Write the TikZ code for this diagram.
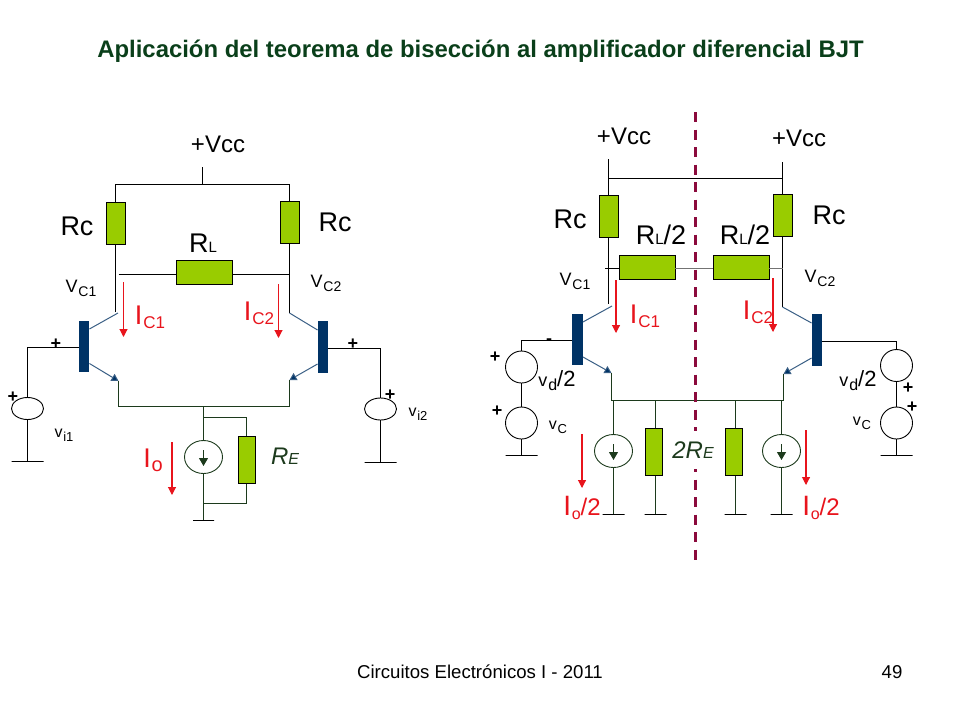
\documentclass[tikz,border=0pt]{standalone}
\usepackage{fontspec}
\setmainfont{Liberation Sans}
\usetikzlibrary{arrows.meta,shapes.geometric}
\definecolor{leafgreen}{HTML}{99CC00}
\definecolor{bjtnavy}{HTML}{003366}
\definecolor{pinblue}{HTML}{3A5F85}
\definecolor{darkwire}{HTML}{1C3A1C}
\definecolor{titlegreen}{HTML}{0A3F1A}
\definecolor{currentred}{HTML}{E8141C}
\definecolor{cutpurple}{HTML}{8B0A3C}
\newcommand{\subtxt}[3]{{#1\kern0.8pt\raisebox{-4pt}{\fontsize{#3}{#3}\selectfont #2}}}
\newcommand{\sizetxt}[1]{\fontsize{#1}{#1}\selectfont}
\tikzset{
  wire/.style={line width=1pt,black},
  lowwire/.style={line width=1pt,darkwire},
  pin/.style={line width=1pt,pinblue},
  emitpin/.style={line width=1pt,pinblue,-{Triangle[length=7pt,width=8pt,fill=bjtnavy]}},
  rvert/.style={draw=black,fill=leafgreen,line width=0.9pt,inner sep=0,minimum width=19,minimum height=42},
  rhoriz/.style={draw=black,fill=leafgreen,line width=0.9pt,inner sep=0,minimum width=56,minimum height=24},
  rbias/.style={draw=black,fill=leafgreen,line width=0.9pt,inner sep=0,minimum width=17,minimum height=47},
  bjtbar/.style={fill=bjtnavy,inner sep=0,minimum width=10.5},
  gndbar/.style={draw=black,line width=1pt,inner sep=0,minimum height=0},
  vsrc/.style={draw=black,ellipse,line width=0.9pt,inner sep=0,minimum width=32,minimum height=22},
  vcirc/.style={draw=black,circle,line width=0.9pt,inner sep=0,minimum size=32},
  isrc/.style={draw=darkwire,ellipse,line width=0.9pt,inner sep=0,minimum width=38,minimum height=33},
  isense/.style={line width=1pt,darkwire,-{Triangle[length=8pt,width=9pt]}},
  curr/.style={line width=1.1pt,currentred,-{Triangle[length=8pt,width=8pt]}},
  lbl/.style={inner sep=0,font=\sizetxt{24}},
  biglbl/.style={inner sep=0,font=\sizetxt{27}},
  smalllbl/.style={inner sep=0,font=\sizetxt{18}},
  redlbl/.style={inner sep=0,text=currentred,font=\sizetxt{27}},
  relbl/.style={inner sep=0,text=darkwire,font=\itshape\sizetxt{24}},
  pluslbl/.style={inner sep=0,font=\bfseries\sizetxt{18}},
}
\begin{document}
\begin{tikzpicture}[x=1pt,y=-1pt]
\useasboundingbox (0,0) rectangle (960,720);
\node[inner sep=0,text=titlegreen,font=\bfseries\sizetxt{23.9}] (title) at (480.5,51) {Aplicación del teorema de bisección al amplificador diferencial BJT};
\node[inner sep=0,font=\sizetxt{18.6}] (footer) at (480,672) {Circuitos Electrónicos I - 2011};
\node[inner sep=0,font=\sizetxt{18.6}] (pagenum) at (892,672) {49};
% bars of the transistors
\foreach \nm/\px/\py/\ph in {barA/84/346.5/51,barB/323/347/52,barC/577.5/339.5/51,barD/817/340/52}
  {\node[bjtbar,minimum height=\ph] (\nm) at (\px,\py) {};}
% resistors
\foreach \nm/\px/\py in {rcA/115.5/223,rcB/289.5/222,rcC/608.5/216,rcD/782.5/215}
  {\node[rvert] (\nm) at (\px,\py) {};}
\foreach \nm/\px/\py in {rlA/204/272,rlC/647/267,rlD/741/267}
  {\node[rhoriz] (\nm) at (\px,\py) {};}
\foreach \nm/\px/\py in {reA/246.5/460,reC/653.5/452,reD/733.5/452}
  {\node[rbias] (\nm) at (\px,\py) {};}
% sources
\node[vsrc] (viA) at (27.5,408.5) {};
\node[vsrc] (viB) at (380.5,409) {};
\node[vcirc] (vdC) at (521.5,367) {};
\node[vcirc] (vcC) at (521.5,423) {};
\node[vcirc] (vdD) at (896.5,365.5) {};
\node[vcirc] (vcD) at (896.5,423) {};
\foreach \nm/\px/\py in {ioA/203.5/457,ioC/613.5/451,ioD/781.5/451}
  {\node[isrc] (\nm) at (\px,\py) {};
   \coordinate (\nm t) at (\px,\py-7);
   \coordinate (\nm b) at (\px,\py+9);
   \draw[isense] (\nm t) -- (\nm b);}
% grounds
\foreach \nm/\px/\py/\pw in {gndA/27.5/461.5/32,gndB/380.5/462.5/32,gndE/203.5/520.5/21,gndC/521.5/455.5/32,gndD/896.5/455.5/32,gndF/613.5/514.5/22,gndG/655.5/514.5/22,gndH/735.5/514.5/22,gndI/781.5/514.5/22}
  {\node[gndbar,minimum width=\pw] (\nm) at (\px,\py) {};}
% free points of the wires
\foreach \nm/\px/\py in {vccA/202.5/167,railA/202.5/184.5,railAl/115.5/184.5,railAr/289.5/184.5,
  colA/115.5/312,colAk/118/313,nodeAl/118.5/274.5,nodeAr/289.5/274.5,colB/289.5/313,
  emiA/118.5/381,emiB/289.5/380,busAl/118.5/406.5,busAr/289.5/406.5,busAm/203.5/406.5,
  baseA/27.5/347.5,baseB/380.5/348.5,teeA/203.5/417.5,teeB/246.5/417.5,teeC/203.5/503.5,teeD/246.5/503.5,
  vccC/608.5/159,vccD/782.5/162,railCl/608.5/178.5,railCr/782.5/178.5,colC/608.5/304,colCk/612/306,colD/782.5/307,
  nodeCl/605/268.5,nodeDr/782.5/268.5,emiC/611.5/373,emiD/783.5/374,busCl/611.5/400.5,busDr/783.5/400.5,
  busCa/613.5/400.5,busCb/655.5/400.5,busDa/735.5/400.5,busDb/781.5/400.5,
  baseC/521.5/340.5,baseD/896.5/341.5}
  {\coordinate (\nm) at (\px,\py);}
% left circuit
\draw[wire] (vccA) -- (railA);
\draw[wire] (rcA.north) -- (railAl) -- (railAr) -- (rcB.north);
\draw[wire] (rcA.south) -- (colA);
\draw[wire] (rcB.south) -- (colB);
\draw[wire] (nodeAl) -- (nodeAl -| rlA.west);
\draw[wire] (nodeAr -| rlA.east) -- (nodeAr);
\draw[pin] (colAk) -- (barA.east |- 0,329);
\draw[pin] (colB) -- (barB.west |- 0,330);
\draw[emitpin] (barA.east |- 0,363.5) -- (emiA);
\draw[emitpin] (barB.west |- 0,364) -- (emiB);
\draw[wire] (barA.west |- baseA) -- (baseA) -- (viA.north);
\draw[wire] (barB.east |- baseB) -- (baseB) -- (viB.north);
\draw[wire] (viA.south) -- (gndA);
\draw[wire] (viB.south) -- (gndB);
\draw[lowwire] (emiA) -- (busAl) -- (busAr) -- (emiB);
\draw[lowwire] (busAm) -- (ioA.north);
\draw[lowwire] (ioA.south) -- (gndE);
\draw[lowwire] (teeA) -- (teeB) -- (reA.north);
\draw[lowwire] (reA.south) -- (teeD) -- (teeC);
% right circuit
\draw[wire] (vccC) -- (rcC.north);
\draw[wire] (vccD) -- (rcD.north);
\draw[wire] (railCl) -- (railCr);
\draw[wire] (rcC.south) -- (colC);
\draw[wire] (rcD.south) -- (colD);
\draw[wire] (nodeCl) -- (nodeCl -| rlC.west);
\draw[wire,black!55] (nodeCl -| rlC.east) -- (nodeCl -| rlD.west);
\draw[wire,black!55] (nodeDr -| rlD.east) -- (nodeDr);
\draw[pin] (colCk) -- (barC.east |- 0,322);
\draw[pin] (colD) -- (barD.west |- 0,323);
\draw[emitpin] (barC.east |- 0,357) -- (emiC);
\draw[emitpin] (barD.west |- 0,358) -- (emiD);
\draw[wire] (barC.west |- baseC) -- (baseC) -- (vdC.north);
\draw[wire] (barD.east |- baseD) -- (baseD) -- (vdD.north);
\draw[wire] (vdC.south) -- (vcC.north);
\draw[wire] (vcC.south) -- (gndC);
\draw[wire] (vdD.south) -- (vcD.north);
\draw[wire] (vcD.south) -- (gndD);
\draw[lowwire] (emiC) -- (busCl) -- (busDr) -- (emiD);
\draw[lowwire] (busCa) -- (ioC.north);
\draw[lowwire] (ioC.south) -- (gndF);
\draw[lowwire] (busCb) -- (reC.north -| busCb);
\draw[lowwire] (reC.south -| gndG) -- (gndG);
\draw[lowwire] (busDa) -- (reD.north -| busDa);
\draw[lowwire] (reD.south -| gndH) -- (gndH);
\draw[lowwire] (busDb) -- (ioD.north);
\draw[lowwire] (ioD.south) -- (gndI);
% cutting line
\coordinate (cutT) at (695.5,112);
\coordinate (cutB) at (695.5,560);
\draw[cutpurple,line width=3.5pt,dash pattern=on 10pt off 7.5pt] (cutT) -- (cutB);
% currents
\foreach \nm/\px/\pa/\pb in {icA/123.5/282/337,icB/278.5/284/338,ioAr/172/442/495,icC/616/280/333,icD/773/278/332,ioCr/582/434/488,ioDr/806/430/485}
  {\coordinate (\nm t) at (\px,\pa);
   \coordinate (\nm b) at (\px,\pb);
   \draw[curr] (\nm t) -- (\nm b);}
% labels left
\node[lbl] (vccAl) at (218,144) {+Vcc};
\node[biglbl] (rcAl) at (77,226) {Rc};
\node[biglbl] (rcBl) at (335,222) {Rc};
\node[biglbl] (rlAl) at (203,243) {R{\sizetxt{15}L}};
\node[smalllbl] (vcAl) at (81,288) {\subtxt{V}{C1}{14}};
\node[smalllbl] (vcBl) at (326,283) {\subtxt{V}{C2}{14}};
\node[redlbl] (icAl) at (150,317) {\subtxt{I}{C1}{17}};
\node[redlbl] (icBl) at (259,313) {\subtxt{I}{C2}{17}};
\node[redlbl] (ioAl) at (153,460) {\subtxt{I}{o}{20}};
\node[relbl] (reAl) at (285,456) {R{\sizetxt{16}E}};
\node[inner sep=0,font=\sizetxt{16}] (viAl) at (64,435) {\subtxt{v}{i1}{13}};
\node[inner sep=0,font=\sizetxt{16}] (viBl) at (418,414) {\subtxt{v}{i2}{13}};
\node[pluslbl] (plusA) at (56,344) {+};
\node[pluslbl] (plusB) at (13,397) {+};
\node[pluslbl] (plusC) at (353,344) {+};
\node[pluslbl] (plusD) at (390,395) {+};
% labels right
\node[lbl] (vccCl) at (624,136) {+Vcc};
\node[lbl] (vccDl) at (799,138) {+Vcc};
\node[biglbl] (rcCl) at (570,219) {Rc};
\node[biglbl] (rcDl) at (829,215) {Rc};
\node[biglbl] (rlCl) at (661,235) {R{\sizetxt{15}L}/2};
\node[biglbl] (rlDl) at (745,235) {R{\sizetxt{15}L}/2};
\node[smalllbl] (vcCl) at (575,281) {\subtxt{V}{C1}{14}};
\node[smalllbl] (vcDl) at (820,278) {\subtxt{V}{C2}{14}};
\node[redlbl] (icCl) at (645,316) {\subtxt{I}{C1}{17}};
\node[redlbl] (icDl) at (758,312) {\subtxt{I}{C2}{17}};
\node[redlbl,font=\sizetxt{24}] (ioCl) at (582,508) {\subtxt{{\sizetxt{28}I}}{o}{16}/2};
\node[redlbl,font=\sizetxt{24}] (ioDl) at (821,508) {\subtxt{{\sizetxt{28}I}}{o}{16}/2};
\node[relbl,fill=white,minimum height=38] (reCl) at (693,450) {2R{\sizetxt{16}E}};
\node[inner sep=0,font=\sizetxt{22}] (vdCl) at (557,381) {\subtxt{{\sizetxt{18}v}}{d}{16}/2};
\node[inner sep=0,font=\sizetxt{22}] (vdDl) at (858,381) {\subtxt{{\sizetxt{18}v}}{d}{16}/2};
\node[inner sep=0,font=\sizetxt{16}] (vcCs) at (558,427) {\subtxt{v}{C}{13}};
\node[inner sep=0,font=\sizetxt{16}] (vcDs) at (862,423) {\subtxt{v}{C}{13}};
\node[pluslbl] (plusE) at (495,357) {+};
\node[pluslbl] (plusF) at (497,411) {+};
\node[pluslbl] (plusG) at (908,388) {+};
\node[pluslbl] (plusH) at (912,407) {+};
\node[pluslbl] (dashC) at (549,342) {-};
\end{tikzpicture}
\end{document}
